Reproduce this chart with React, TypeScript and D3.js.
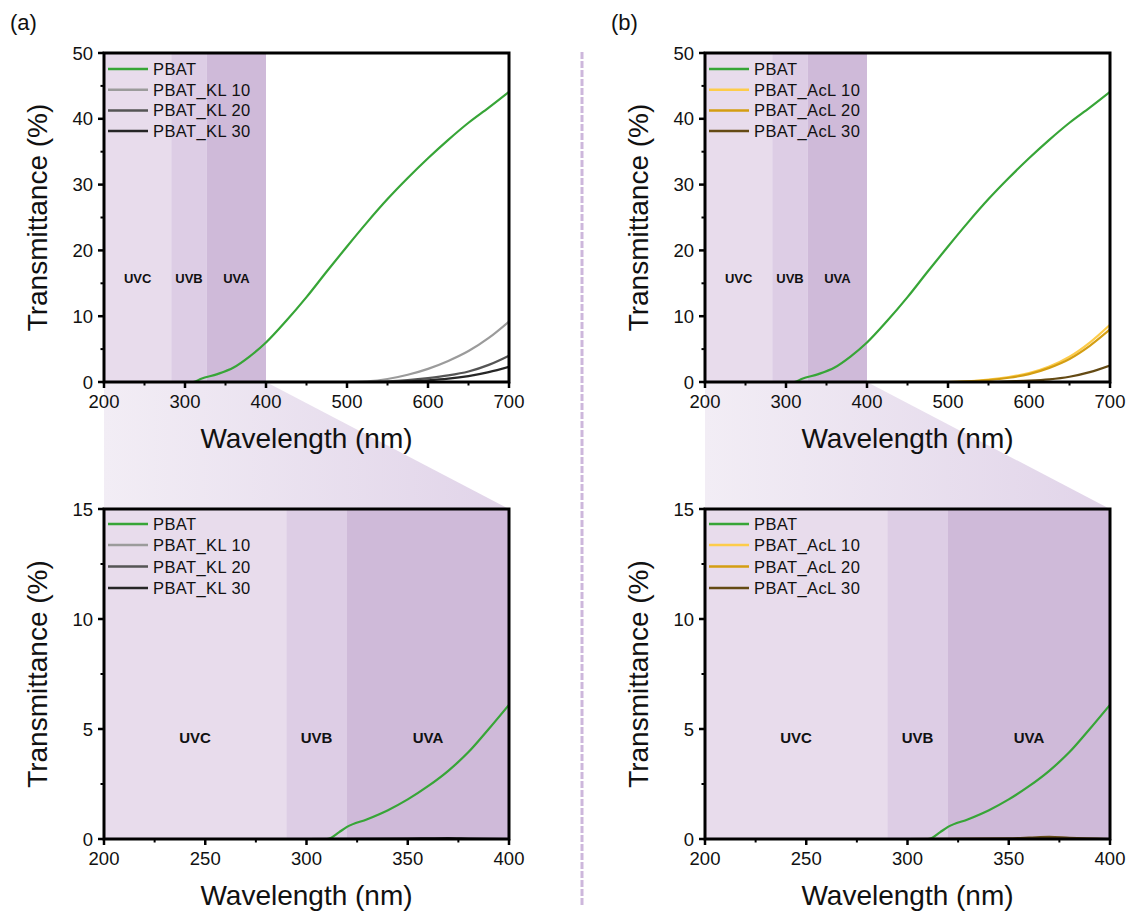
import React from "react";
import * as d3 from "d3";

const FONT = "'Liberation Sans', Arial, Helvetica, sans-serif";

// ---------- data ----------
const TOP_WL = [200, 250, 300, 310, 320, 340, 360, 380, 400, 425, 450, 475, 500, 525, 550, 575, 600, 625, 650, 675, 700];
const TOP_PBAT = [0, 0, 0, 0, 0.5, 1.2, 2.2, 3.9, 6.0, 9.3, 12.9, 16.8, 20.6, 24.3, 27.8, 31.0, 34.0, 36.8, 39.4, 41.7, 44.1];

const TOP_SAMPLE_WL = [200, 300, 400, 500, 525, 550, 575, 600, 625, 650, 675, 700];
const TOP_KL10 = [0, 0, 0, 0, 0.1, 0.45, 1.1, 2.0, 3.2, 4.7, 6.7, 9.2];
const TOP_KL20 = [0, 0, 0, 0, 0, 0.1, 0.3, 0.6, 1.0, 1.6, 2.6, 4.0];
const TOP_KL30 = [0, 0, 0, 0, 0, 0, 0.1, 0.25, 0.5, 0.9, 1.5, 2.3];
const TOP_ACL10 = [0, 0, 0, 0, 0.1, 0.35, 0.75, 1.35, 2.35, 3.85, 6.0, 8.7];
const TOP_ACL20 = [0, 0, 0, 0, 0.1, 0.3, 0.65, 1.2, 2.15, 3.5, 5.5, 8.0];
const TOP_ACL30 = [0, 0, 0, 0, 0, 0, 0.1, 0.2, 0.4, 0.8, 1.5, 2.5];

const BOT_WL = [200, 250, 300, 310, 312, 316, 320, 330, 340, 350, 360, 370, 380, 390, 400];
const BOT_PBAT = [0, 0, 0, 0, 0.05, 0.3, 0.55, 0.9, 1.3, 1.8, 2.4, 3.1, 3.95, 5.0, 6.1];

const BOT_SAMPLE_WL = [200, 250, 300, 350, 360, 370, 380, 400];
const BOT_KL10 = [0, 0, 0, 0, 0, 0, 0, 0];
const BOT_KL20 = [0, 0, 0, 0, 0, 0, 0, 0];
const BOT_KL30 = [0, 0, 0, 0.02, 0.03, 0.04, 0.02, 0];
const BOT_ACL10 = [0, 0, 0, 0, 0, 0, 0, 0];
const BOT_ACL20 = [0, 0, 0, 0, 0, 0.02, 0, 0];
const BOT_ACL30 = [0, 0, 0, 0.03, 0.06, 0.1, 0.05, 0];

const TOP_X_TICKS = [200, 300, 400, 500, 600, 700];
const TOP_Y_TICKS = [0, 10, 20, 30, 40, 50];
const BOT_X_TICKS = [200, 250, 300, 350, 400];
const BOT_Y_TICKS = [0, 5, 10, 15];

const TOP_BANDS = [200, 283, 327, 400];
const BOT_BANDS = [200, 290, 320, 400];
const BAND_NAMES = ["UVC", "UVB", "UVA"];
const BAND_COLORS = ["#e8dcec", "#ddcde5", "#cfbad9"];

const KL_NAMES = ["PBAT", "PBAT_KL 10", "PBAT_KL 20", "PBAT_KL 30"];
const ACL_NAMES = ["PBAT", "PBAT_AcL 10", "PBAT_AcL 20", "PBAT_AcL 30"];
const KL_COLORS = ["#37a537", "#9b9b9b", "#555555", "#262626"];
const ACL_COLORS = ["#37a537", "#fdcc4a", "#d49e12", "#644a14"];

// ---------- layout ----------
const PW = 405;
const TOP_Y0 = 53, TOP_Y1 = 382;
const BOT_Y0 = 509, BOT_Y1 = 839;

type Series = { wl: number[]; v: number[] };

function Plot(props: {
  id: string;
  left: number;
  y0: number;
  y1: number;
  xDomain: [number, number];
  yDomain: [number, number];
  xTicks: number[];
  yTicks: number[];
  bands: number[];
  bandFont: number;
  bandLabelValue: number;
  series: Series[];
  names: string[];
  colors: string[];
  legendRows: number[];
}) {
  const { id, left, y0, y1, xDomain, yDomain, xTicks, yTicks, bands, series, names, colors } = props;
  const x = d3.scaleLinear().domain(xDomain).range([left, left + PW]);
  const y = d3.scaleLinear().domain(yDomain).range([y1, y0]);
  const line = d3
    .line<[number, number]>()
    .x((d) => x(d[0]))
    .y((d) => y(d[1]))
    .curve(d3.curveMonotoneX);

  const xMinor = xTicks.slice(0, -1).map((t, i) => (t + xTicks[i + 1]) / 2);
  const yMinor = yTicks.slice(0, -1).map((t, i) => (t + yTicks[i + 1]) / 2);

  return (
    <g>
      <defs>
        <clipPath id={id}>
          <rect x={left} y={y0} width={PW} height={y1 - y0} />
        </clipPath>
      </defs>
      {BAND_NAMES.map((n, i) => (
        <rect
          key={n}
          x={x(bands[i])}
          y={y0}
          width={x(bands[i + 1]) - x(bands[i])}
          height={y1 - y0}
          fill={BAND_COLORS[i]}
        />
      ))}
      {BAND_NAMES.map((n, i) => (
        <text
          key={"l" + n}
          x={x((bands[i] + bands[i + 1]) / 2)}
          y={y(props.bandLabelValue)}
          textAnchor="middle"
          dominantBaseline="central"
          fontFamily={FONT}
          fontWeight="bold"
          fontSize={props.bandFont}
          fill="#111"
        >
          {n}
        </text>
      ))}
      <g clipPath={`url(#${id})`}>
        {series.map((s, i) => (
          <path
            key={i}
            d={line(s.wl.map((w, j) => [w, s.v[j]] as [number, number])) || ""}
            fill="none"
            stroke={colors[i]}
            strokeWidth={2.2}
          />
        ))}
      </g>
      {names.map((n, i) => (
        <g key={"lg" + n}>
          <line x1={left + 4} x2={left + 44} y1={props.legendRows[i]} y2={props.legendRows[i]} stroke={colors[i]} strokeWidth={2.5} />
          <text
            x={left + 49}
            y={props.legendRows[i]}
            dominantBaseline="central"
            fontFamily={FONT}
            fontSize={16.5}
            letterSpacing={0.4}
            fill="#111"
          >
            {n}
          </text>
        </g>
      ))}
      {xTicks.map((t) => (
        <g key={"xt" + t}>
          <line x1={x(t)} x2={x(t)} y1={y1} y2={y1 + 6} stroke="#000" strokeWidth={2.5} />
          <text x={x(t)} y={y1 + 26} textAnchor="middle" fontFamily={FONT} fontSize={18.5} fill="#111">
            {t}
          </text>
        </g>
      ))}
      {xMinor.map((t) => (
        <line key={"xm" + t} x1={x(t)} x2={x(t)} y1={y1} y2={y1 + 3.5} stroke="#000" strokeWidth={2} />
      ))}
      {yTicks.map((t) => (
        <g key={"yt" + t}>
          <line x1={left} x2={left - 6} y1={y(t)} y2={y(t)} stroke="#000" strokeWidth={2.5} />
          <text
            x={left - 11}
            y={y(t)}
            textAnchor="end"
            dominantBaseline="central"
            fontFamily={FONT}
            fontSize={18.5}
            fill="#111"
          >
            {t}
          </text>
        </g>
      ))}
      {yMinor.map((t) => (
        <line key={"ym" + t} x1={left} x2={left - 3.5} y1={y(t)} y2={y(t)} stroke="#000" strokeWidth={2} />
      ))}
      <rect x={left} y={y0} width={PW} height={y1 - y0} fill="none" stroke="#000" strokeWidth={3} />
      <text
        x={left + PW / 2}
        y={y1 + 66}
        textAnchor="middle"
        fontFamily={FONT}
        fontSize={28}
        fill="#111"
      >
        Wavelength (nm)
      </text>
      <text
        transform={`translate(${left - 57},${(y0 + y1) / 2}) rotate(-90)`}
        textAnchor="middle"
        fontFamily={FONT}
        fontSize={28}
        fill="#111"
      >
        Transmittance (%)
      </text>
    </g>
  );
}

function Side(props: {
  tag: string;
  left: number;
  label: string;
  names: string[];
  colors: string[];
  top: Series[];
  bot: Series[];
}) {
  const { left, tag } = props;
  const xTop = d3.scaleLinear().domain([200, 700]).range([left, left + PW]);
  const trap = [
    [left, TOP_Y1],
    [xTop(400), TOP_Y1],
    [left + PW, BOT_Y0],
    [left, BOT_Y0],
  ]
    .map((p) => p.join(","))
    .join(" ");
  return (
    <g>
      <defs>
        <linearGradient id={"grad" + tag} gradientUnits="userSpaceOnUse" x1={left} y1={0} x2={left + PW} y2={0}>
          <stop offset="0" stopColor="#f2edf5" />
          <stop offset="1" stopColor="#e1d4e9" />
        </linearGradient>
      </defs>
      <polygon points={trap} fill={`url(#grad${tag})`} />
      <text x={left - 94} y={30} fontFamily={FONT} fontSize={22} fill="#111">
        {props.label}
      </text>
      <Plot
        id={"clipTop" + tag}
        left={left}
        y0={TOP_Y0}
        y1={TOP_Y1}
        xDomain={[200, 700]}
        yDomain={[0, 50]}
        xTicks={TOP_X_TICKS}
        yTicks={TOP_Y_TICKS}
        bands={TOP_BANDS}
        bandFont={13}
        bandLabelValue={15.8}
        series={props.top}
        names={props.names}
        colors={props.colors}
        legendRows={[69, 89.7, 110.4, 131]}
      />
      <Plot
        id={"clipBot" + tag}
        left={left}
        y0={BOT_Y0}
        y1={BOT_Y1}
        xDomain={[200, 400]}
        yDomain={[0, 15]}
        xTicks={BOT_X_TICKS}
        yTicks={BOT_Y_TICKS}
        bands={BOT_BANDS}
        bandFont={15}
        bandLabelValue={4.6}
        series={props.bot}
        names={props.names}
        colors={props.colors}
        legendRows={[524, 545, 566.5, 588]}
      />
    </g>
  );
}

export default function App() {
  const topKL: Series[] = [
    { wl: TOP_WL, v: TOP_PBAT },
    { wl: TOP_SAMPLE_WL, v: TOP_KL10 },
    { wl: TOP_SAMPLE_WL, v: TOP_KL20 },
    { wl: TOP_SAMPLE_WL, v: TOP_KL30 },
  ];
  const botKL: Series[] = [
    { wl: BOT_WL, v: BOT_PBAT },
    { wl: BOT_SAMPLE_WL, v: BOT_KL10 },
    { wl: BOT_SAMPLE_WL, v: BOT_KL20 },
    { wl: BOT_SAMPLE_WL, v: BOT_KL30 },
  ];
  const topAcL: Series[] = [
    { wl: TOP_WL, v: TOP_PBAT },
    { wl: TOP_SAMPLE_WL, v: TOP_ACL10 },
    { wl: TOP_SAMPLE_WL, v: TOP_ACL20 },
    { wl: TOP_SAMPLE_WL, v: TOP_ACL30 },
  ];
  const botAcL: Series[] = [
    { wl: BOT_WL, v: BOT_PBAT },
    { wl: BOT_SAMPLE_WL, v: BOT_ACL10 },
    { wl: BOT_SAMPLE_WL, v: BOT_ACL20 },
    { wl: BOT_SAMPLE_WL, v: BOT_ACL30 },
  ];
  return (
    <svg
      width={1132}
      height={914}
      style={{ position: "absolute", left: 0, top: 0, display: "block", background: "#fff" }}
    >
      <rect x={0} y={0} width={1132} height={914} fill="#fff" />
      <line x1={582} x2={582} y1={52} y2={905} stroke="#cdb7dc" strokeWidth={3} strokeDasharray="7,2" />
      <Side tag="a" left={104} label="(a)" names={KL_NAMES} colors={KL_COLORS} top={topKL} bot={botKL} />
      <Side tag="b" left={705} label="(b)" names={ACL_NAMES} colors={ACL_COLORS} top={topAcL} bot={botAcL} />
    </svg>
  );
}
